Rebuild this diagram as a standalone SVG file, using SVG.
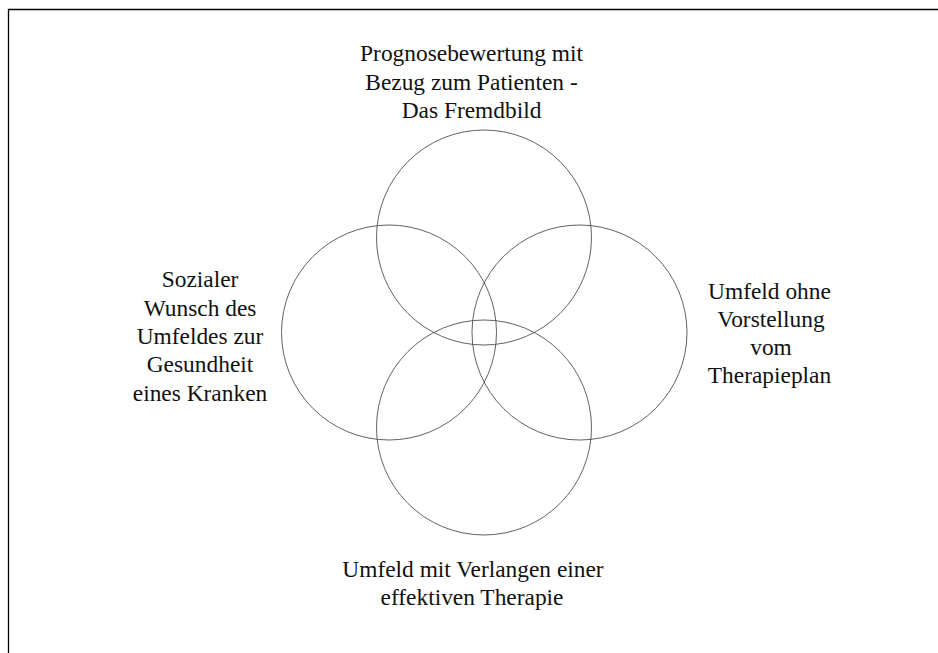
<svg xmlns="http://www.w3.org/2000/svg" width="938" height="653" viewBox="0 0 938 653">
<style>
.ring{fill:none;stroke:#3a3a3a;stroke-width:0.8}
.lbl{font-family:"Liberation Serif","Times New Roman",serif;font-size:23.4px;fill:#111;text-anchor:middle}
.frame{fill:none;stroke:#000;stroke-width:1.3}
</style>
<rect width="938" height="653" fill="#fff"/>
<path class="frame" d="M8.5,653 V9.5 H938"/>
<g id="top">
<circle class="ring" cx="484" cy="237.5" r="107.5"/>
<text class="lbl" x="471.5" y="61">Prognosebewertung mit</text>
<text class="lbl" x="471.5" y="89.5">Bezug zum Patienten -</text>
<text class="lbl" x="471.5" y="118">Das Fremdbild</text>
</g>
<g id="left">
<circle class="ring" cx="389" cy="332.5" r="107.5"/>
<text class="lbl" x="200" y="287">Sozialer</text>
<text class="lbl" x="200" y="315.5">Wunsch des</text>
<text class="lbl" x="200" y="344">Umfeldes zur</text>
<text class="lbl" x="200" y="372">Gesundheit</text>
<text class="lbl" x="200" y="400.5">eines Kranken</text>
</g>
<g id="right">
<circle class="ring" cx="579.5" cy="332.5" r="107.5"/>
<text class="lbl" x="769.5" y="298.5">Umfeld ohne</text>
<text class="lbl" x="771" y="326.8">Vorstellung</text>
<text class="lbl" x="771" y="355">vom</text>
<text class="lbl" x="769.5" y="383.3">Therapieplan</text>
</g>
<g id="bottom">
<circle class="ring" cx="484" cy="427.5" r="107.5"/>
<text class="lbl" x="473" y="576.5">Umfeld mit Verlangen einer</text>
<text class="lbl" x="472" y="604.8">effektiven Therapie</text>
</g>
</svg>
